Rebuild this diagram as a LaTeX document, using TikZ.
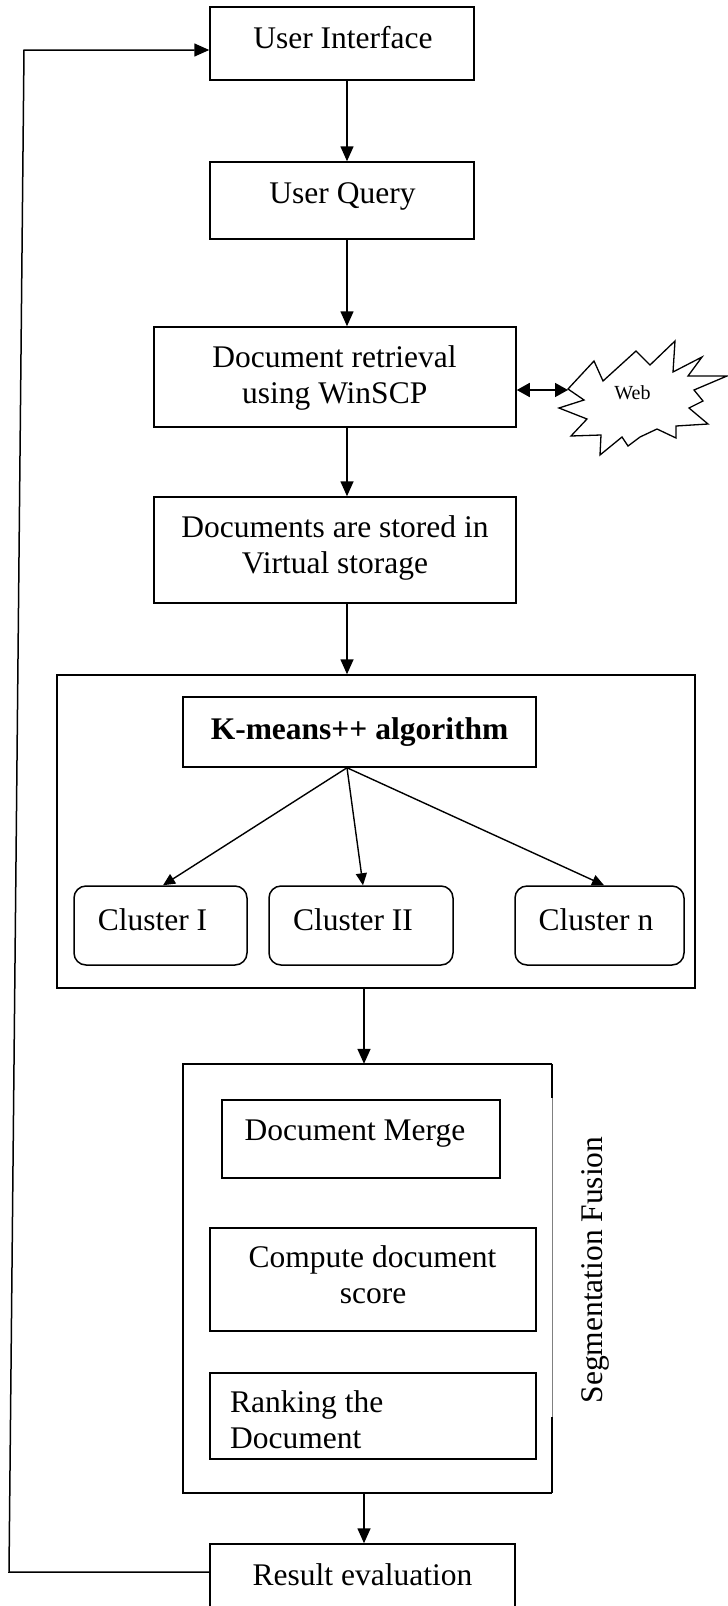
\documentclass[tikz,border=0pt]{standalone}
\usepackage{fontspec}
\setmainfont{Liberation Serif}
\usetikzlibrary{arrows.meta,calc}
\begin{document}
\begin{tikzpicture}[x=1pt,y=-1pt,
  boxst/.style={draw, line width=1.5pt, inner sep=0pt},
  rbox/.style={boxst, rounded corners=12pt},
  txt/.style={font=\fontsize{31.5}{36}\selectfont, inner sep=0pt, anchor=base},
  arr/.style={line width=1.6pt, -{Triangle[length=15pt,width=13pt]}},
  darr/.style={line width=1.6pt, {Triangle[length=13pt,width=14pt]}-{Triangle[length=13pt,width=14pt]}},
  carr/.style={line width=1.4pt, -{Triangle[length=12pt,width=11pt]}}
]
\useasboundingbox (0,0) rectangle (728,1606);
\clip (0,0) rectangle (728,1606);
\fill[white] (0,0) rectangle (728,1606);

% column coordinates
\coordinate (colA) at (347,0);
\coordinate (colB) at (364,0);
\coordinate (colW) at (0,390);
\coordinate (fbA) at (9,1572);
\coordinate (fbB) at (24,50);

% boxes
\node[boxst, minimum width=264pt, minimum height=73pt] (ui) at (342,43.5) {};
\node[boxst, minimum width=264pt, minimum height=77pt] (uq) at (342,200.5) {};
\node[boxst, minimum width=362pt, minimum height=100pt] (dr) at (335,377) {};
\node[boxst, minimum width=362pt, minimum height=106pt] (ds) at (335,550) {};
\node[boxst, minimum width=638pt, minimum height=313pt] (kbox) at (376,831.5) {};
\node[boxst, minimum width=353pt, minimum height=70pt] (km) at (359.5,732) {};
\node[rbox, minimum width=173pt, minimum height=79pt] (c1) at (160.5,925.5) {};
\node[rbox, minimum width=184pt, minimum height=79pt] (c2) at (361,925.5) {};
\node[rbox, minimum width=169pt, minimum height=79pt] (cn) at (599.5,925.5) {};
\node[inner sep=0pt, minimum width=369pt, minimum height=429pt] (seg) at (367.5,1278.5) {};
\node[boxst, minimum width=278pt, minimum height=78pt] (dm) at (361,1139) {};
\node[boxst, minimum width=326pt, minimum height=103pt] (cs) at (373,1279.5) {};
\node[boxst, minimum width=326pt, minimum height=86pt] (rk) at (373,1416) {};
\node[boxst, minimum width=305pt, minimum height=96pt] (res) at (362.5,1592) {};

% segmentation box edges
\draw[line width=1.5pt] (seg.north east) -- (seg.north west) -- (seg.south west) -- (seg.south east);
\draw[line width=1.5pt] (seg.north east) -- ($(seg.north east)+(0,34)$);
\draw[line width=0.6pt, gray] ($(seg.north east)+(0,34)$) -- ($(seg.south east)+(0,-76)$);
\draw[line width=1.5pt] ($(seg.south east)+(0,-76)$) -- (seg.south east);

% web starburst
\draw[line width=1.3pt, fill=white] (568,389) -- (594,361) -- (603,381) -- (636,351) -- (650,365) -- (675,341) -- (673,372) -- (702,357) -- (688,376) -- (727,376) -- (694,390) -- (703,401) -- (689,408) -- (708,424) -- (676,426) -- (676,438) -- (657,429) -- (640,437) -- (628,446) -- (622,437) -- (600,455) -- (601,435) -- (571,436) -- (587,419) -- (559,408) -- (584,400) -- cycle;
\coordinate (webtip) at (568,390);

% texts
\node[txt] (uit) at (343,48) {User Interface};
\node[txt] (uqt) at (342.5,203) {User Query};
\node[txt] (drt1) at (334.5,367) {Document retrieval};
\node[txt] (drt2) at (334.7,403) {using WinSCP};
\node[txt] (dst1) at (335,537) {Documents are stored in};
\node[txt] (dst2) at (335,573) {Virtual storage};
\node[txt, font=\fontsize{31.5}{36}\selectfont\bfseries] (kmt) at (359.5,739) {K-means++ algorithm};
\node[txt] (c1t) at (152.5,930) {Cluster I};
\node[txt] (c2t) at (353,930) {Cluster II};
\node[txt] (cnt) at (596,930) {Cluster n};
\node[txt, font=\fontsize{20}{24}\selectfont] (web) at (632.5,399) {Web};
\node[txt] (dmt) at (355,1140) {Document Merge};
\node[txt] (cst1) at (372.5,1267) {Compute document};
\node[txt] (cst2) at (373,1303) {score};
\node[txt, anchor=base west] (rkt1) at (230,1412) {Ranking the};
\node[txt, anchor=base west] (rkt2) at (230,1448) {Document};
\node[txt] (rest) at (362.5,1585) {Result evaluation};
\node[txt, rotate=90] (segt) at (602,1270) {Segmentation Fusion};

% connectors
\draw[arr] (ui.south -| colA) -- (uq.north -| colA);
\draw[arr] (uq.south -| colA) -- (dr.north -| colA);
\draw[arr] (dr.south -| colA) -- (ds.north -| colA);
\draw[arr] (ds.south -| colA) -- (kbox.north -| colA);
\draw[darr] (dr.east |- colW) -- (webtip);
\draw[carr] (km.south -| colA) -- ($(c1.north)+(2.5,0)$);
\draw[carr] (km.south -| colA) -- ($(c2.north)+(2,0)$);
\draw[carr] (km.south -| colA) -- ($(cn.north)+(4.5,0)$);
\draw[arr] (kbox.south -| colB) -- (seg.north -| colB);
\draw[arr] (seg.south -| colB) -- (res.north -| colB);
\draw[arr, line width=1.5pt] (res.west |- fbA) -- (fbA) -- (fbB) -- (ui.west |- fbB);
\end{tikzpicture}
\end{document}
